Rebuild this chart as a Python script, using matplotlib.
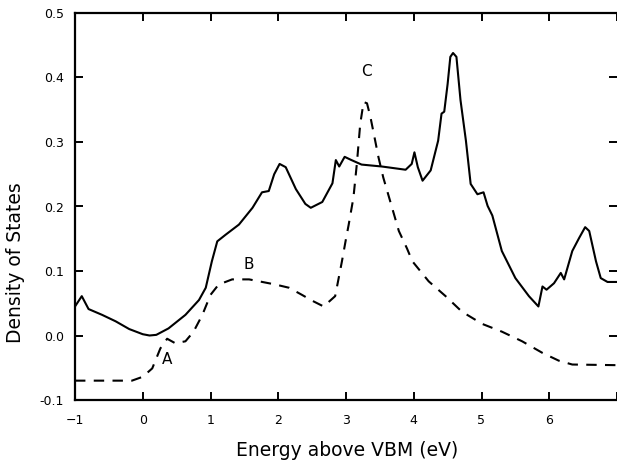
import matplotlib
matplotlib.use("Agg")
import matplotlib.pyplot as plt

# ---- data ----
solid_x = [-1.0, -0.9, -0.8, -0.6, -0.4, -0.2, 0.0, 0.1, 0.2, 0.38, 0.63, 0.83, 0.93,
           1.02, 1.1, 1.22, 1.42, 1.62, 1.76, 1.86, 1.94, 2.02, 2.11, 2.26, 2.4, 2.48,
           2.65, 2.8, 2.85, 2.9, 2.98, 3.08, 3.23, 3.53, 3.88, 3.97, 4.01, 4.06, 4.13,
           4.25, 4.36, 4.41, 4.45, 4.5, 4.54, 4.58, 4.63, 4.69, 4.77, 4.84, 4.94, 5.03,
           5.09, 5.16, 5.3, 5.5, 5.7, 5.84, 5.9, 5.96, 6.07, 6.17, 6.22, 6.34, 6.44,
           6.53, 6.59, 6.69, 6.76, 6.86, 7.0]
solid_y = [0.045, 0.061, 0.041, 0.032, 0.022, 0.01, 0.002, 0.0, 0.001, 0.011, 0.032,
           0.055, 0.074, 0.115, 0.146, 0.156, 0.172, 0.198, 0.222, 0.224, 0.25, 0.266,
           0.261, 0.227, 0.204, 0.198, 0.207, 0.236, 0.272, 0.262, 0.277, 0.272, 0.265,
           0.262, 0.257, 0.266, 0.284, 0.261, 0.24, 0.256, 0.302, 0.344, 0.347, 0.39,
           0.432, 0.438, 0.432, 0.365, 0.302, 0.235, 0.219, 0.222, 0.201, 0.186, 0.131,
           0.089, 0.061, 0.045, 0.076, 0.071, 0.081, 0.097, 0.087, 0.131, 0.151, 0.168,
           0.162, 0.115, 0.089, 0.083, 0.083]

dash_x = [-1.0, -0.5, -0.16, 0.0, 0.14, 0.26, 0.36, 0.48, 0.63, 0.75, 0.88, 1.0, 1.12,
          1.32, 1.57, 1.96, 2.16, 2.35, 2.5, 2.67, 2.84, 2.94, 3.0, 3.04, 3.11, 3.16,
          3.21, 3.26, 3.31, 3.36, 3.41, 3.48, 3.55, 3.65, 3.78, 3.9, 3.98, 4.22, 4.47,
          4.71, 5.01, 5.3, 5.6, 5.9, 6.14, 6.34, 7.0]
dash_y = [-0.070, -0.070, -0.070, -0.064, -0.051, -0.02, -0.005, -0.012, -0.009, 0.006,
          0.032, 0.063, 0.079, 0.087, 0.087, 0.079, 0.074, 0.063, 0.054, 0.045, 0.061,
          0.115, 0.150, 0.172, 0.214, 0.266, 0.328, 0.362, 0.36, 0.339, 0.313, 0.276,
          0.245, 0.209, 0.162, 0.135, 0.115, 0.084, 0.061, 0.037, 0.018, 0.006, -0.009,
          -0.027, -0.039, -0.045, -0.046]

peak_labels = ["A", "B", "C"]
peak_x = [0.36, 1.57, 3.3]
peak_y = [-0.037, 0.11, 0.41]

x_ticks = [-1, 0, 1, 2, 3, 4, 5, 6, 7]
x_tick_labels = ["\u22121", "0", "1", "2", "3", "4", "5", "6", ""]
y_ticks = [-0.1, 0.0, 0.1, 0.2, 0.3, 0.4, 0.5]
y_tick_labels = ["-0.1", "0.0", "0.1", "0.2", "0.3", "0.4", "0.5"]

x_label = "Energy above VBM (eV)"
y_label = "Density of States"

# ---- figure ----
plt.rcParams['font.family'] = ['DejaVu Sans']
fig = plt.figure(figsize=(6.17, 4.65), dpi=100)
ax = fig.add_axes([75 / 617, 1 - 400 / 465, (617 - 75) / 617, (400 - 13) / 465])

ax.plot(solid_x, solid_y, color="black", lw=1.5, solid_joinstyle="round")
ax.plot(dash_x, dash_y, color="black", lw=1.5, dashes=(5, 4))

for lab, lx, ly in zip(peak_labels, peak_x, peak_y):
    ax.text(lx, ly, lab, fontsize=11, ha="center", va="center")

ax.set_xlim(-1, 7)
ax.set_ylim(-0.1, 0.5)
ax.set_xticks(x_ticks)
ax.set_xticklabels(x_tick_labels)
ax.set_yticks(y_ticks)
ax.set_yticklabels(y_tick_labels)

for s in ["top", "left", "bottom"]:
    ax.spines[s].set_linewidth(1.6)
ax.spines["right"].set_visible(False)

ax.tick_params(axis="both", direction="in", length=6, width=1.4,
               top=True, right=True, labelsize=9)
ax.tick_params(axis="x", pad=10)
ax.tick_params(axis="y", pad=8)

fig.text(347 / 617, 1 - 450 / 465, x_label, fontsize=13.5, ha="center", va="center")
fig.text(16 / 617, 1 - 263 / 465, y_label, fontsize=13.5, ha="center", va="center",
         rotation=90)

fig.savefig("out.png", dpi=100)
